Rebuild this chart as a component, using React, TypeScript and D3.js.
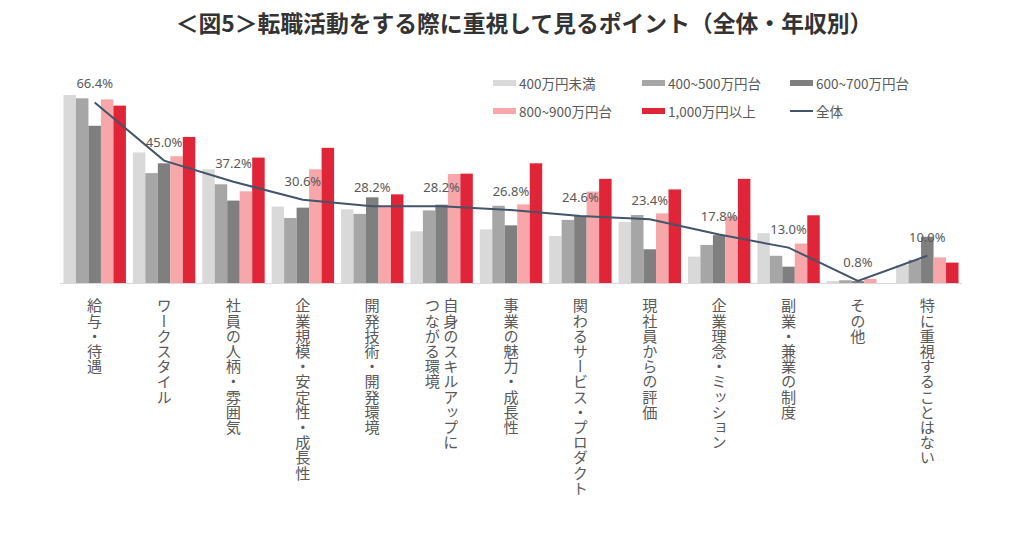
import React from "react";
import * as d3 from "d3";

const categories: string[][] = [
  ["給与・待遇"],
  ["ワークスタイル"],
  ["社員の人柄・雰囲気"],
  ["企業規模・安定性・成長性"],
  ["開発技術・開発環境"],
  ["自身のスキルアップに", "つながる環境"],
  ["事業の魅力・成長性"],
  ["関わるサービス・プロダクト"],
  ["現社員からの評価"],
  ["企業理念・ミッション"],
  ["副業・兼業の制度"],
  ["その他"],
  ["特に重視することはない"],
];

const seriesNames = ["400万円未満", "400~500万円台", "600~700万円台", "800~900万円台", "1,000万円以上"];
const seriesColors = ["#D9D9D9", "#A6A6A6", "#7F7F7F", "#F7A6A9", "#DF2537"];

const under400 = [69.1, 48.0, 41.8, 28.1, 27.1, 19.0, 19.7, 17.3, 22.5, 9.7, 18.3, 0.7, 6.6];
const r400to500 = [67.9, 40.4, 36.3, 23.9, 25.4, 26.7, 28.4, 23.2, 25.0, 14.0, 10.0, 1.0, 8.5];
const r600to700 = [57.8, 44.0, 30.3, 27.7, 31.5, 28.8, 21.2, 24.6, 12.4, 17.6, 6.0, 0.7, 17.0];
const r800to900 = [67.5, 46.6, 33.7, 41.8, 28.1, 40.1, 28.9, 33.6, 25.6, 24.4, 14.5, 1.5, 9.4];
const over1000 = [65.2, 53.7, 46.1, 49.7, 32.6, 40.2, 44.0, 38.3, 34.4, 38.3, 24.9, 0, 7.5];
const overall = [66.4, 45.0, 37.2, 30.6, 28.2, 28.2, 26.8, 24.6, 23.4, 17.8, 13.0, 0.8, 10.0];

const seriesValues = [under400, r400to500, r600to700, r800to900, over1000];

const title = "＜図5＞転職活動をする際に重視して見るポイント（全体・年収別）";
const overallName = "全体";

export default function App() {
  const W = 1024;
  const H = 538;
  const left = 60;
  const right = 962;
  const base = 283;
  const top = 92.6;

  const idx = categories.map((_, i) => i);
  const x0 = d3.scaleBand<number>().domain(idx).range([left, right]).paddingInner(0.1).paddingOuter(0.05);
  const x1 = d3.scaleBand<number>().domain(seriesNames.map((_, i) => i)).range([0, x0.bandwidth()]).padding(0);
  const y = d3.scaleLinear().domain([0, 70]).range([base, top]);

  const line = d3
    .line<number>()
    .x((_, i) => (x0(i) as number) + x0.bandwidth() / 2)
    .y((d) => y(d));

  const legendItems = [
    { name: seriesNames[0], color: seriesColors[0], kind: "rect" },
    { name: seriesNames[1], color: seriesColors[1], kind: "rect" },
    { name: seriesNames[2], color: seriesColors[2], kind: "rect" },
    { name: seriesNames[3], color: seriesColors[3], kind: "rect" },
    { name: seriesNames[4], color: seriesColors[4], kind: "rect" },
    { name: overallName, color: "#44546A", kind: "line" },
  ];
  const legX = [493, 642, 790];
  const legY = [83, 111];

  const jp = "'Noto Sans CJK JP', 'Noto Sans', sans-serif";

  return (
    <svg width={W} height={H} style={{ position: "absolute", left: 0, top: 0, background: "#fff" }}>
      <text x={524} y={22} textAnchor="middle" dominantBaseline="central" fontFamily={jp} fontWeight={700} fontSize={22.8} fill="#333">
        {title}
      </text>

      {legendItems.map((it, i) => {
        const lx = legX[i % 3];
        const ly = legY[Math.floor(i / 3)];
        return (
          <g key={i}>
            {it.kind === "rect" ? (
              <rect x={lx} y={ly - 3} width={23} height={6} fill={it.color} />
            ) : (
              <line x1={lx} x2={lx + 23} y1={ly} y2={ly} stroke={it.color} strokeWidth={2} />
            )}
            <text x={lx + 26} y={ly} dominantBaseline="central" fontFamily={jp} fontSize={13.5} fill="#595959">
              {it.name}
            </text>
          </g>
        );
      })}

      {seriesValues.map((vals, s) =>
        vals.map((v, i) => (
          <rect
            key={`${s}-${i}`}
            x={(x0(i) as number) + (x1(s) as number)}
            y={y(v)}
            width={x1.bandwidth()}
            height={base - y(v)}
            fill={seriesColors[s]}
          />
        ))
      )}

      <line x1={left} x2={right} y1={base + 0.5} y2={base + 0.5} stroke="#D9D9D9" strokeWidth={1} />

      <path d={line(overall) || ""} fill="none" stroke="#44546A" strokeWidth={2} />

      {overall.map((v, i) => (
        <text
          key={i}
          x={(x0(i) as number) + x0.bandwidth() / 2}
          y={y(v) - 19}
          textAnchor="middle"
          dominantBaseline="central"
          fontFamily="'Noto Sans', sans-serif"
          fontSize={13}
          fill="#595959"
        >
          {v.toFixed(1)}%
        </text>
      ))}

      {categories.map((lines, i) => {
        const cx = (x0(i) as number) + x0.bandwidth() / 2;
        const n = lines.length;
        return lines.map((t, j) => (
          <text
            key={`${i}-${j}`}
            x={cx + ((n - 1) / 2 - j) * 18.5}
            y={298}
            style={{ writingMode: "vertical-rl" as any }}
            textAnchor="start"
            fontFamily={jp}
            fontSize={15.2}
            fill="#595959"
          >
            {t}
          </text>
        ));
      })}
    </svg>
  );
}
